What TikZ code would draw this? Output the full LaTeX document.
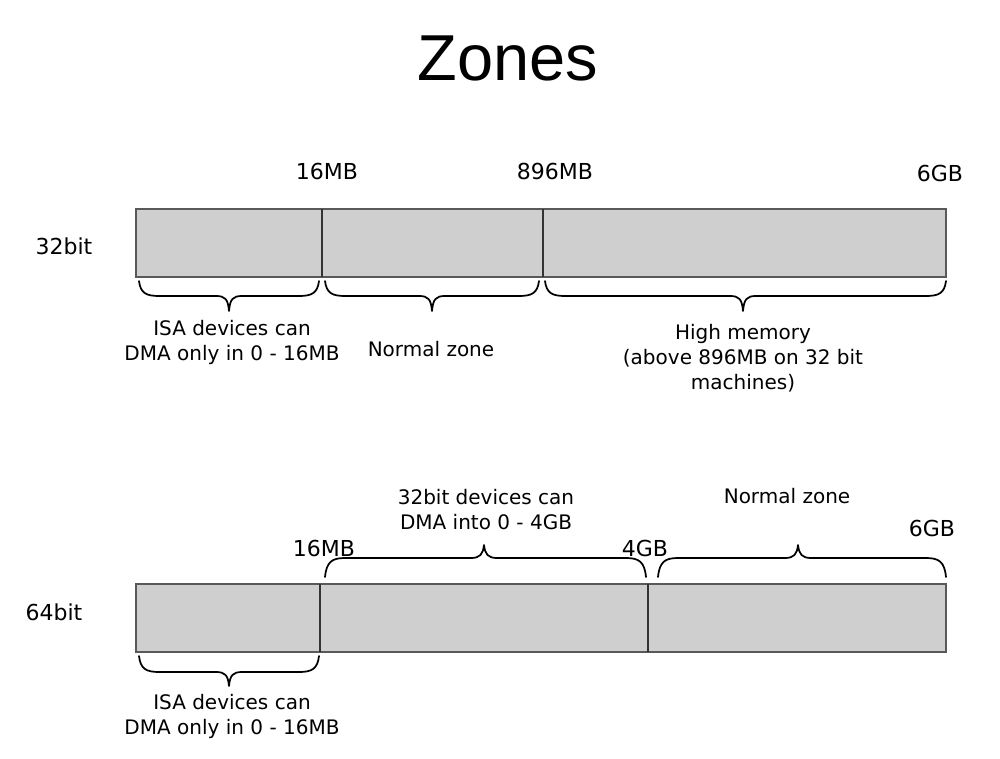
\documentclass[tikz,border=0pt]{standalone}
\usepackage{fontspec}
\setmainfont{DejaVu Sans}
\newfontfamily\titlefont{Liberation Sans}
\usetikzlibrary{fit}
\tikzset{
  seg/.style={draw=black!65, fill=black!19, line width=0.9pt, inner sep=0pt},
  divider/.style={draw=black!80, line width=0.9pt},
  lbl/.style={font=\fontsize{15pt}{18.75pt}\selectfont, align=center, inner sep=0pt},
  tick/.style={font=\fontsize{16.5pt}{20pt}\selectfont, inner sep=0pt},
  bracestyle/.style={draw=black, line width=1.3pt, line cap=round, line join=round},
}
% #1 x1, #2 x2, #3 xm, #4 y0, #5 flat offset, #6 tip offset (signed)
\newcommand{\membrace}[6]{%
  \draw[bracestyle] (#1,#4)
    .. controls ({#1+1.5},{#4+0.8*#5}) and ({#1+7},{#4+#5}) .. ({#1+20},{#4+#5})
    -- ({#3-13},{#4+#5})
    .. controls ({#3-4},{#4+#5}) and ({#3-1},{#4+1.2*#5}) .. ({#3},{#4+#6})
    .. controls ({#3+1},{#4+1.2*#5}) and ({#3+4},{#4+#5}) .. ({#3+13},{#4+#5})
    -- ({#2-20},{#4+#5})
    .. controls ({#2-7},{#4+#5}) and ({#2-1.5},{#4+0.8*#5}) .. (#2,#4);}
\begin{document}
\begin{tikzpicture}[x=0.75pt,y=-0.75pt]
\useasboundingbox (0,0) rectangle (1000,759);
% title
\node[inner sep=0pt, font=\titlefont\fontsize{48.7pt}{56pt}\selectfont] (title) at (508,58) {Zones};

% 32bit bar
\node[seg, fit={(136,209) (946,277)}] (bar32) {};
\draw[divider] (322,209) -- (322,277);
\draw[divider] (543,209) -- (543,277);
\node[tick] (l32) at (64,246) {32bit};
\node[tick] (t16a) at (327,171) {16MB};
\node[tick] (t896) at (555,171) {896MB};
\node[tick] (t6a) at (940,173) {6GB};

\membrace{139}{319}{229}{281}{15}{30}
\membrace{325}{539}{432}{281}{15}{30}
\membrace{545}{946}{743}{281}{15}{30}

\node[lbl] (isa1) at (232,342) {ISA devices can\\DMA only in 0 - 16MB};
\node[lbl] (norm1) at (431,349) {Normal zone};
\node[lbl] (high) at (743,358) {High memory\\(above 896MB on 32 bit\\machines)};

% 64bit bar
\node[seg, fit={(136,584) (946,652)}] (bar64) {};
\draw[divider] (320,584) -- (320,652);
\draw[divider] (648,584) -- (648,652);
\node[tick] (l64) at (54,612) {64bit};
\node[tick] (t16b) at (324,548) {16MB};
\node[tick] (t4) at (645,548) {4GB};
\node[tick] (t6b) at (932,528) {6GB};

\membrace{325}{646}{484}{577}{-19}{-32}
\membrace{658}{946}{798}{577}{-19}{-32}
\membrace{139}{319}{229}{656}{16}{30}

\node[lbl] (dma32) at (486,510) {32bit devices can\\DMA into 0 - 4GB};
\node[lbl] (norm2) at (787,496) {Normal zone};
\node[lbl] (isa2) at (232,716) {ISA devices can\\DMA only in 0 - 16MB};
\end{tikzpicture}
\end{document}
